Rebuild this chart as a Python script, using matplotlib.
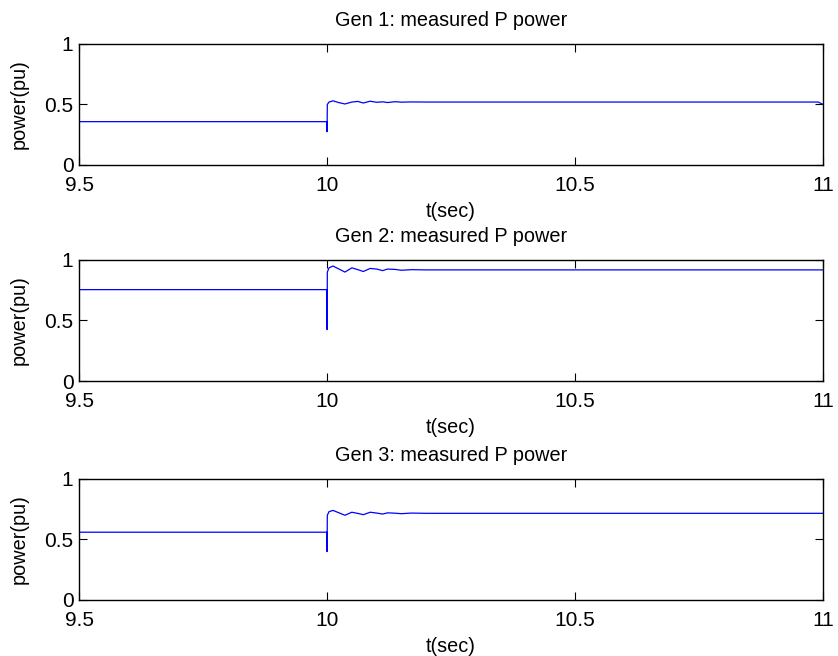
import matplotlib
matplotlib.use("Agg")
import matplotlib.pyplot as plt

plt.rcParams['font.family'] = ['Liberation Sans', 'DejaVu Sans']

# Time points (s)
t = [9.5, 9.9995, 10.0, 10.0005, 10.004, 10.012, 10.024, 10.036, 10.05, 10.062,
     10.073, 10.087, 10.1, 10.112, 10.122, 10.137, 10.15, 10.17, 10.2, 10.3, 10.5, 10.8, 10.99, 11.0]

gen1 = [0.358, 0.358, 0.275, 0.50, 0.52, 0.53, 0.515, 0.504, 0.52, 0.525,
        0.512, 0.527, 0.518, 0.522, 0.516, 0.523, 0.519, 0.521, 0.52, 0.52, 0.52, 0.52, 0.52, 0.50]

gen2 = [0.755, 0.755, 0.425, 0.90, 0.935, 0.95, 0.925, 0.90, 0.935, 0.92,
        0.905, 0.93, 0.925, 0.912, 0.925, 0.922, 0.915, 0.92, 0.918, 0.918, 0.918, 0.918, 0.918, 0.918]

gen3 = [0.56, 0.56, 0.40, 0.70, 0.73, 0.74, 0.72, 0.70, 0.725, 0.715,
        0.705, 0.725, 0.718, 0.71, 0.72, 0.717, 0.713, 0.718, 0.716, 0.716, 0.716, 0.716, 0.716, 0.716]

series = [gen1, gen2, gen3]
titles = ["Gen 1: measured P power", "Gen 2: measured P power", "Gen 3: measured P power"]
xticks = [9.5, 10, 10.5, 11]
xticklabels = ["9.5", "10", "10.5", "11"]
yticks = [0, 0.5, 1]
yticklabels = ["0", "0.5", "1"]

fig = plt.figure(figsize=(8.38, 6.56), dpi=100)
left, width, height = 0.0943, 0.888, 0.1845
bottoms = [0.7485, 0.4192, 0.0854]

for b, y, ttl in zip(bottoms, series, titles):
    ax = fig.add_axes([left, b, width, height])
    ax.plot(t, y, color=(0, 0, 1), lw=0.9)
    ax.set_xlim(9.5, 11)
    ax.set_ylim(0, 1)
    ax.set_xticks(xticks)
    ax.set_xticklabels(xticklabels)
    ax.set_yticks(yticks)
    ax.set_yticklabels(yticklabels)
    ax.tick_params(direction='in', length=6, width=0.8, labelsize=15,
                   top=True, right=True)
    ax.tick_params(axis='x', pad=8)
    ax.tick_params(axis='y', pad=4)
    for s in ax.spines.values():
        s.set_linewidth(1.0)
    ax.set_title(ttl, fontsize=14.3, pad=13)
    ax.set_xlabel("t(sec)", fontsize=14.3, labelpad=5)
    ax.set_ylabel("power(pu)", fontsize=14.3, labelpad=11)

fig.savefig("out.png", dpi=100)
